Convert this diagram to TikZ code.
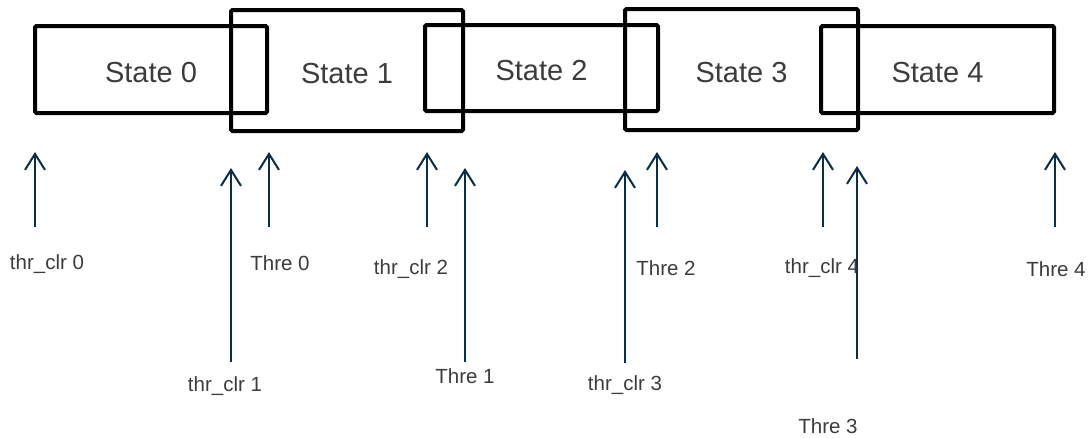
\documentclass[tikz,border=0pt]{standalone}
\usepackage{fontspec}
\setmainfont{Liberation Sans}
\usetikzlibrary{arrows.meta}
\definecolor{arrowcol}{RGB}{12,45,70}
\definecolor{txtcol}{RGB}{60,60,60}
\tikzset{
  statebox/.style={draw=black, line width=4pt, rounded corners=1.5pt, inner sep=0pt,
    text=txtcol, font=\fontsize{29}{34}\selectfont, text height=28pt, text depth=2.2pt},
  lbl/.style={text=txtcol, inner sep=0pt, font=\fontsize{20.5}{24}\selectfont},
  uparrow/.style={draw=arrowcol, line width=2pt,
    -{Straight Barb[length=16pt,width=20pt,line width=2pt]}}
}
\begin{document}
\begin{tikzpicture}[x=1pt,y=-1pt]
\useasboundingbox (0,0) rectangle (1088,437);
% state boxes
\node[statebox, minimum width=232pt, minimum height=87pt]  (s0) at (151,69.5)   {State 0};
\node[statebox, minimum width=232pt, minimum height=121pt] (s1) at (347,70.5)   {State 1};
\node[statebox, minimum width=233pt, minimum height=86pt]  (s2) at (541.5,68)   {State 2};
\node[statebox, minimum width=233pt, minimum height=121pt] (s3) at (741.5,69.5) {State 3};
\node[statebox, minimum width=233pt, minimum height=87pt]  (s4) at (937.5,69.5) {State 4};
% arrow end points
\coordinate (c0b) at (35,227);  \coordinate (c0t) at (35,152);
\coordinate (c1b) at (231,362); \coordinate (c1t) at (231,168);
\coordinate (t0b) at (269,227); \coordinate (t0t) at (269,152);
\coordinate (c2b) at (427,227); \coordinate (c2t) at (427,152);
\coordinate (t1b) at (465,362); \coordinate (t1t) at (465,168);
\coordinate (c3b) at (625,363); \coordinate (c3t) at (625,170);
\coordinate (t2b) at (657,227); \coordinate (t2t) at (657,152);
\coordinate (c4b) at (823,227); \coordinate (c4t) at (823,152);
\coordinate (t3b) at (857,359); \coordinate (t3t) at (857,166);
\coordinate (t4b) at (1055,227); \coordinate (t4t) at (1055,152);
% arrows
\foreach \a in {c0,c1,t0,c2,t1,c3,t2,c4,t3,t4}
  \draw[uparrow] (\a b) -- (\a t);
% labels
\node[lbl] (l0) at (47,264)   {thr\_clr 0};
\node[lbl] (l1) at (225,386)  {thr\_clr 1};
\node[lbl] (l2) at (280,263)  {Thre 0};
\node[lbl] (l3) at (411,269)  {thr\_clr 2};
\node[lbl] (l4) at (465,376)  {Thre 1};
\node[lbl] (l5) at (625,385)  {thr\_clr 3};
\node[lbl] (l6) at (666,268)  {Thre 2};
\node[lbl] (l7) at (822,268)  {thr\_clr 4};
\node[lbl] (l8) at (828,426)  {Thre 3};
\node[lbl] (l9) at (1056,269) {Thre 4};
\end{tikzpicture}
\end{document}
